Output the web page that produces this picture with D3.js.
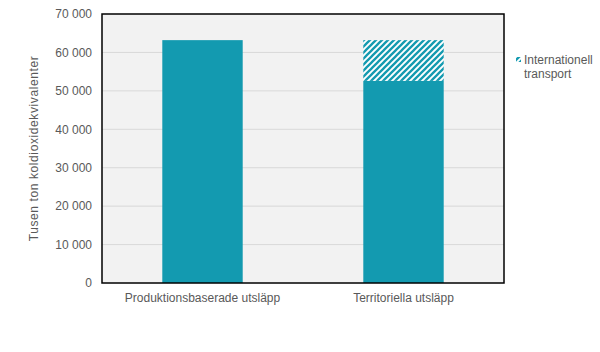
<!DOCTYPE html>
<html>
<head>
<meta charset="utf-8">
<script src="https://cdn.jsdelivr.net/npm/d3@7"></script>
<style>
  body { margin: 0; background: #fff; }
  text { font-family: "Liberation Sans", Arial, sans-serif; }
</style>
</head>
<body>
<div id="canvas"></div>
<script>
const categories = ["Produktionsbaserade utsläpp", "Territoriella utsläpp"];
const baseValues = [63200, 52600];
const transportValues = [0, 10600];
const yTicks = [0, 10000, 20000, 30000, 40000, 50000, 60000, 70000];
const yTitle = "Tusen ton koldioxidekvivalenter";
const legendLines = ["Internationell", "transport"];

const color = "#139ab0";
const textColor = "#595959";

const margin = { top: 14, right: 96, bottom: 69, left: 102 },
    width = 600 - margin.left - margin.right,
    height = 352 - margin.top - margin.bottom;

const root = d3.select("#canvas")
    .append("svg")
    .attr("width", 600)
    .attr("height", 352);

// hatch pattern
const defs = root.append("defs");
defs.append("pattern")
    .attr("id", "hatch")
    .attr("patternUnits", "userSpaceOnUse")
    .attr("width", 6)
    .attr("height", 6)
    .call(p => {
        p.append("rect").attr("width", 6).attr("height", 6).attr("fill", "#fff");
        p.append("path")
            .attr("d", "M0,6 L6,0 M-1.5,1.5 L1.5,-1.5 M4.5,7.5 L7.5,4.5")
            .attr("stroke", color)
            .attr("stroke-width", 2.3);
    });

const svg = root.append("g")
    .attr("transform", `translate(${margin.left},${margin.top})`);

const x = d3.scaleBand()
    .domain(categories)
    .range([0, width])
    .paddingInner(0.6)
    .paddingOuter(0.3);

const y = d3.scaleLinear()
    .domain([0, 70000])
    .range([height, 0]);

// plot background
svg.append("rect")
    .attr("width", width)
    .attr("height", height)
    .attr("fill", "#f2f2f2");

// grid
svg.append("g")
    .selectAll("line")
    .data(yTicks.slice(1, -1))
    .join("line")
    .attr("x1", 0)
    .attr("x2", width)
    .attr("y1", d => y(d))
    .attr("y2", d => y(d))
    .attr("stroke", "#d9d9d9")
    .attr("stroke-width", 1);

// bars
svg.append("g")
    .selectAll("rect")
    .data(categories)
    .join("rect")
    .attr("x", d => x(d))
    .attr("width", x.bandwidth())
    .attr("y", (d, i) => y(baseValues[i]))
    .attr("height", (d, i) => y(0) - y(baseValues[i]))
    .attr("fill", color);

svg.append("g")
    .selectAll("rect")
    .data(categories)
    .join("rect")
    .attr("x", d => x(d))
    .attr("width", x.bandwidth())
    .attr("y", (d, i) => y(baseValues[i] + transportValues[i]))
    .attr("height", (d, i) => y(baseValues[i]) - y(baseValues[i] + transportValues[i]))
    .attr("fill", "url(#hatch)");

// frame
svg.append("rect")
    .attr("width", width)
    .attr("height", height)
    .attr("fill", "none")
    .attr("stroke", "#000")
    .attr("stroke-width", 1.5);

// y axis
const fmt = d => d3.format(",")(d).replace(/,/g, " ");
const yAxis = svg.append("g")
    .call(d3.axisLeft(y).tickValues(yTicks).tickFormat(fmt).tickSize(0).tickPadding(10));
yAxis.select(".domain").remove();
yAxis.selectAll("text")
    .attr("fill", textColor)
    .style("font-size", "12px");

// x axis
const xAxis = svg.append("g")
    .attr("transform", `translate(0,${height})`)
    .call(d3.axisBottom(x).tickSize(0).tickPadding(10));
xAxis.select(".domain").remove();
xAxis.selectAll("text")
    .attr("fill", textColor)
    .style("font-size", "12px");

// y title
root.append("text")
    .attr("transform", `translate(38,${margin.top + height / 2}) rotate(-90)`)
    .attr("text-anchor", "middle")
    .attr("fill", textColor)
    .style("font-size", "12px")
    .style("letter-spacing", "0.6px")
    .text(yTitle);

// legend
const legend = root.append("g")
    .attr("transform", `translate(${margin.left + width + 12},60)`);
legend.append("rect")
    .attr("x", 0)
    .attr("y", -3)
    .attr("width", 5)
    .attr("height", 5)
    .attr("fill", "url(#hatch)");
legend.append("text")
    .attr("x", 8)
    .attr("y", 4)
    .attr("fill", textColor)
    .style("font-size", "12px")
    .selectAll("tspan")
    .data(legendLines)
    .join("tspan")
    .attr("x", 8)
    .attr("dy", (d, i) => i === 0 ? 0 : 14)
    .text(d => d);
</script>
</body>
</html>
